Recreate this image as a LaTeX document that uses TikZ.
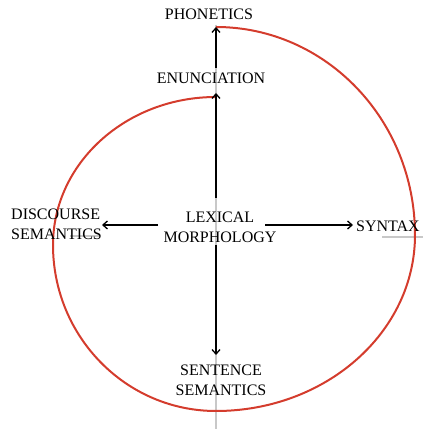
\documentclass[tikz,border=0pt]{standalone}
\usepackage{fontspec}
\setmainfont{Liberation Serif}
\usetikzlibrary{arrows.meta}
\definecolor{spiralred}{RGB}{212,60,45}
\definecolor{axisgray}{RGB}{200,200,200}
\begin{document}
\begin{tikzpicture}[x=1pt,y=1pt,
  lbl/.style={font=\fontsize{16}{20}\selectfont, inner sep=1pt, align=center},
  arr/.style={line width=1.3pt, -{Straight Barb[length=4.5pt,width=8pt,line width=1.3pt]}},
  axis/.style={axisgray, line width=1.4pt},
  spiral/.style={spiralred, line width=2pt}]
\useasboundingbox (0,0) rectangle (423,429);
% gray axes
\coordinate (vt) at (216,404);
\coordinate (vb) at (216,0);
\coordinate (hl1) at (70,193);
\coordinate (hl2) at (100,193);
\coordinate (hr1) at (382,192);
\coordinate (hr2) at (423,192);
\draw[axis] (vt) -- (vb);
\draw[axis] (hl1) -- (hl2);
\draw[axis] (hr1) -- (hr2);
% spiral
\draw[spiral] (216,402)
  arc[start angle=90, end angle=0, x radius=199, y radius=208]
  arc[start angle=0, end angle=-90, x radius=199, y radius=176]
  arc[start angle=-90, end angle=-180, x radius=163, y radius=166]
  arc[start angle=180, end angle=90, x radius=163, y radius=148];
% labels
\node[lbl] (phon) at (209,415) {PHONETICS};
\node[lbl] (enun) at (211,351) {ENUNCIATION};
\node[lbl] (lex) at (220,202) {LEXICAL\\MORPHOLOGY};
\node[lbl, align=left, anchor=west] (disc) at (10,205) {DISCOURSE\\SEMANTICS};
\node[lbl] (syn) at (388,203) {SYNTAX};
\node[lbl] (sent) at (221,49) {SENTENCE\\SEMANTICS};
% arrow end points
\coordinate (lexN) at (216,231);
\coordinate (enunS) at (216,336);
\coordinate (enunN) at (216,361);
\coordinate (phonS) at (216,402);
\coordinate (lexS) at (216,184);
\coordinate (sentN) at (216,74);
\coordinate (lexW) at (158,204);
\coordinate (discE) at (102,204);
\coordinate (lexE) at (265,204);
\coordinate (synW) at (353,204);
\draw[arr] (lexN) -- (enunS);
\draw[arr] (enunN) -- (phonS);
\draw[arr] (lexS) -- (sentN);
\draw[arr] (lexW) -- (discE);
\draw[arr] (lexE) -- (synW);
\end{tikzpicture}
\end{document}
